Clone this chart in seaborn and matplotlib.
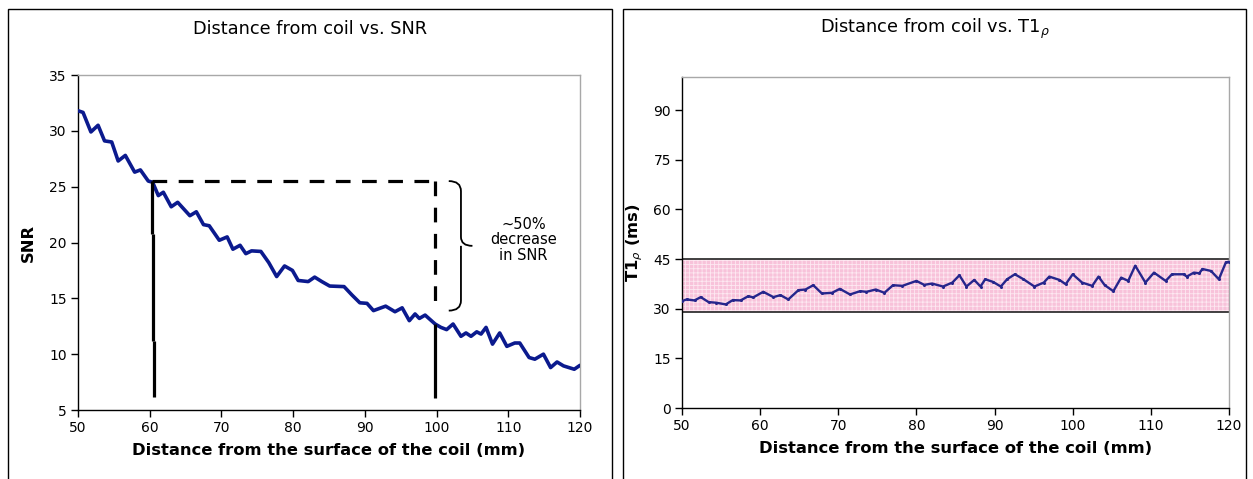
import numpy as np
import pandas as pd
import matplotlib
matplotlib.use("Agg")
import matplotlib.pyplot as plt
from matplotlib.patches import Rectangle, PathPatch
from matplotlib.path import Path
import seaborn as sns

# SNR versus distance from the coil surface
snr_dist = [50.0, 50.7, 51.8, 52.8, 53.7, 54.7, 55.6, 56.6, 57.9, 58.7, 59.8, 60.4,
            61.2, 61.9, 63.0, 63.9, 65.6, 66.5, 67.5, 68.3, 69.7, 70.8, 71.6, 72.6,
            73.4, 74.2, 75.5, 76.6, 77.7, 78.8, 79.9, 80.7, 82.1, 83.0, 84.0, 85.1,
            87.1, 88.2, 89.3, 90.3, 91.2, 92.9, 94.2, 95.2, 96.2, 97.0, 97.6, 98.4,
            99.8, 100.6, 101.4, 102.3, 103.4, 104.1, 104.8, 105.6, 106.2, 106.9,
            107.8, 108.8, 109.8, 110.9, 111.6, 112.9, 113.7, 114.9, 115.9, 116.8,
            117.7, 119.2, 120.0]
snr_vals = [31.8, 31.65, 29.9, 30.5, 29.1, 29.0, 27.3, 27.8, 26.3, 26.5, 25.5, 25.4,
            24.2, 24.5, 23.2, 23.6, 22.4, 22.75, 21.6, 21.5, 20.2, 20.5, 19.4, 19.75,
            19.0, 19.25, 19.2, 18.2, 16.95, 17.9, 17.5, 16.6, 16.5, 16.9, 16.5, 16.1,
            16.05, 15.3, 14.6, 14.55, 13.9, 14.3, 13.8, 14.15, 13.0, 13.6, 13.2, 13.5,
            12.7, 12.4, 12.2, 12.7, 11.6, 11.9, 11.6, 12.0, 11.8, 12.4,
            10.9, 11.9, 10.7, 11.0, 11.0, 9.7, 9.55, 10.0, 8.8, 9.3,
            8.95, 8.65, 9.0]

# T1rho versus distance from the coil surface
t1_dist = [50.0, 50.6, 51.6, 52.4, 53.4, 54.4, 55.6, 56.5, 57.5, 58.5, 59.1, 60.4,
           61.7, 62.6, 63.6, 64.9, 65.8, 66.8, 67.9, 69.2, 70.2, 71.5, 72.8, 73.6,
           74.8, 75.9, 77.0, 78.2, 80.0, 81.0, 82.0, 83.4, 84.6, 85.5, 86.4, 87.4,
           88.2, 88.8, 89.8, 90.8, 91.6, 92.6, 93.7, 95.1, 96.3, 97.0, 98.3, 99.1,
           100.0, 101.2, 102.5, 103.3, 104.1, 105.2, 106.2, 107.1, 108.0, 109.3,
           110.4, 111.9, 112.7, 114.2, 114.6, 115.5, 116.2, 116.6, 117.7, 118.7,
           119.6, 120.0]
t1_vals = [32.3, 32.8, 32.5, 33.5, 32.0, 31.8, 31.3, 32.6, 32.5, 33.8, 33.4, 35.1,
           33.5, 34.1, 32.8, 35.6, 35.8, 37.1, 34.6, 34.8, 36.0, 34.3, 35.3, 35.1,
           35.8, 34.8, 37.1, 36.9, 38.4, 37.2, 37.6, 36.7, 37.9, 40.1, 36.7, 38.7,
           36.7, 38.9, 38.1, 36.7, 38.9, 40.4, 38.9, 36.7, 37.9, 39.7, 38.7, 37.4,
           40.4, 37.9, 36.9, 39.7, 37.1, 35.3, 39.4, 38.4, 43.0, 37.9,
           40.9, 38.4, 40.4, 40.4, 39.7, 40.9, 40.7, 42.0, 41.4, 38.9,
           44.0, 44.2]

# Reference markers on the SNR chart
near_mm, far_mm = 60.35, 99.75
snr_near, snr_far = 25.5, 12.7
band_low, band_high = 29, 45

x_ticks = [50, 60, 70, 80, 90, 100, 110, 120]
snr_ticks = [5, 10, 15, 20, 25, 30, 35]
t1_ticks = [0, 15, 30, 45, 60, 75, 90]

snr_df = pd.DataFrame({"dist": snr_dist, "snr": snr_vals})
t1_df = pd.DataFrame({"dist": t1_dist, "t1": t1_vals})

sns.set_theme(style="white")
plt.rcParams["font.family"] = ["DejaVu Sans"]
plt.rcParams["text.color"] = "black"
plt.rcParams["axes.labelcolor"] = "black"
plt.rcParams["xtick.color"] = "black"
plt.rcParams["ytick.color"] = "black"
plt.rcParams["hatch.linewidth"] = 0.6

fig = plt.figure(figsize=(12.53, 4.79), dpi=100)

# Panel frames
for x0, x1 in [(8, 612), (623, 1246)]:
    fig.patches.append(Rectangle((x0 / 1253, -0.02), (x1 - x0) / 1253, 1.0 - 9 / 479 + 0.02,
                                 transform=fig.transFigure, fill=False,
                                 edgecolor="black", linewidth=1.0, zorder=0))

ax1 = fig.add_axes([78 / 1253, 1 - 410 / 479, (580 - 78) / 1253, (410 - 75) / 479])
ax2 = fig.add_axes([682 / 1253, 1 - 408 / 479, (1229 - 682) / 1253, (408 - 77) / 479])

def style_axes(ax):
    ax.set_facecolor("white")
    for side in ("top", "right"):
        ax.spines[side].set_color("#a8a8a8")
        ax.spines[side].set_linewidth(1.0)
    for side in ("left", "bottom"):
        ax.spines[side].set_color("black")
        ax.spines[side].set_linewidth(1.0)
    ax.tick_params(axis="both", direction="out", length=5, width=1.0,
                   colors="black", labelcolor="black", labelsize=10, pad=3)
    ax.tick_params(axis="both", which="both", bottom=True, left=True, top=False, right=False)
    ax.grid(False)

# Left: SNR
style_axes(ax1)
sns.lineplot(data=snr_df, x="dist", y="snr", ax=ax1, sort=False,
             color="#0b1a8e", linewidth=2.6, zorder=5)
ax1.set_xlim(50, 120)
ax1.set_ylim(5, 35)
ax1.set_xticks(x_ticks)
ax1.set_yticks(snr_ticks)
ax1.set_xlabel("Distance from the surface of the coil (mm)", fontsize=11.8,
               fontweight="bold", labelpad=6, color="black")
ax1.set_ylabel("SNR", fontsize=11.8, fontweight="bold", labelpad=10, color="black")

dash_kw = dict(color="black", linewidth=2.3, dashes=(4.6, 3.6), zorder=6)
ax1.plot([near_mm, far_mm], [snr_near, snr_near], **dash_kw)
ax1.plot([far_mm, far_mm], [snr_near, 13.9], **dash_kw)
solid_kw = dict(color="black", linewidth=2.3, solid_capstyle="butt", zorder=6)
ax1.plot([near_mm - 0.05, near_mm - 0.05], [snr_near, 20.8], **solid_kw)
ax1.plot([near_mm + 0.1, near_mm + 0.1], [20.8, 11.2], **solid_kw)
ax1.plot([near_mm + 0.2, near_mm + 0.2], [11.2, 6.2], **solid_kw)
ax1.plot([far_mm, far_mm], [snr_far, 6.1], **solid_kw)

# Curly brace spanning the SNR drop
bx0, bx1, bx2 = 101.7, 103.4, 105.0
ytop, ybot = snr_near, 13.9
ymid = (ytop + ybot) / 2
verts = [(bx0, ytop), (bx1, ytop), (bx1, ytop - 0.9), (bx1, ymid + 0.8),
         (bx1, ymid), (bx2, ymid),
         (bx1, ymid), (bx1, ymid - 0.8), (bx1, ybot + 0.9),
         (bx1, ybot), (bx0, ybot)]
codes = [Path.MOVETO, Path.CURVE3, Path.CURVE3, Path.LINETO,
         Path.CURVE3, Path.CURVE3,
         Path.MOVETO, Path.CURVE3, Path.LINETO,
         Path.CURVE3, Path.CURVE3]
ax1.add_patch(PathPatch(Path(verts, codes), fill=False, edgecolor="black",
                        linewidth=1.3, zorder=6))
ax1.text(112.1, 20.25, "~50%\ndecrease\nin SNR", ha="center", va="center",
         fontsize=10.5, linespacing=1.05, color="black")

# Right: T1rho
style_axes(ax2)
ax2.axhspan(band_low, band_high, facecolor="#f8c2da", edgecolor="#fde8f1",
            hatch="++++", linewidth=0, zorder=1)
ax2.hlines([band_low, band_high], 50, 120, colors="#333333", linewidth=1.3, zorder=2)
sns.lineplot(data=t1_df, x="dist", y="t1", ax=ax2, sort=False,
             color="#26268c", linewidth=1.7, marker="o", markersize=2.2,
             markeredgewidth=0, zorder=5)
ax2.set_xlim(50, 120)
ax2.set_ylim(0, 100)
ax2.set_xticks(x_ticks)
ax2.set_yticks(t1_ticks)
ax2.set_xlabel("Distance from the surface of the coil (mm)", fontsize=11.8,
               fontweight="bold", labelpad=6, color="black")
ax2.set_ylabel(r"T1$_\rho$ (ms)", fontsize=11.8, fontweight="bold", labelpad=6,
               color="black")

# Titles
fig.text(310 / 1253, 1 - 29 / 479, "Distance from coil vs. SNR", ha="center",
         va="center", fontsize=12.8, color="black")
fig.text(935 / 1253, 1 - 29 / 479, r"Distance from coil vs. T1$_\rho$", ha="center",
         va="center", fontsize=12.8, color="black")

fig.savefig("out.png", dpi=100)
